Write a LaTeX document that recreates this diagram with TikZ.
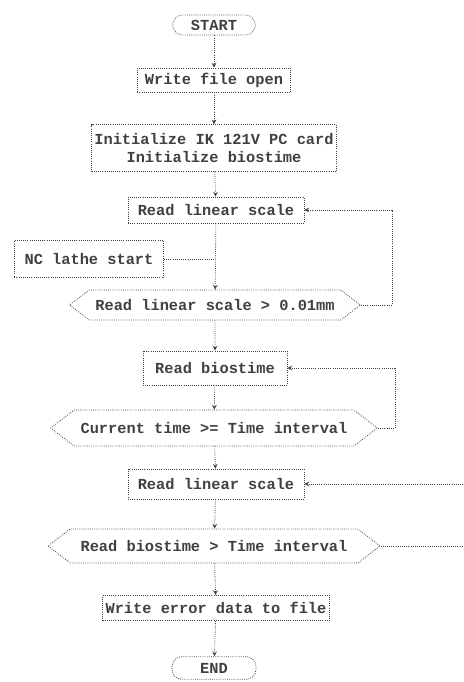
\documentclass[tikz,border=0pt]{standalone}
\usepackage{fontspec}
\setmonofont{Liberation Mono}
\usepackage{tikz}
\usetikzlibrary{shapes,arrows,positioning,calc}

\tikzset{
  flowline/.style={densely dotted, line width=0.6pt, black!75},
  procbox/.style={draw, flowline, rectangle, inner sep=2pt, font=\ttfamily\bfseries\fontsize{11.5}{13}\selectfont},
  termbox/.style={procbox, rounded corners=7.5pt},
  testbox/.style={procbox, signal, signal to=west and east, signal pointer angle=75, inner xsep=1pt}
}

\begin{document}
\begin{tikzpicture}[x=0.75pt, y=-0.75pt, >=stealth]
    \useasboundingbox (0,0) rectangle (464,682);

    % Start and setup
    \node[termbox, minimum width=62pt, minimum height=15pt] (start) at (214,25) {START};
    \node[procbox, minimum width=115pt, minimum height=18pt] (wopen) at (214,80) {Write file open};
    \node[procbox, minimum width=182pt, minimum height=35pt, align=center] (init) at (214,148) {Initialize IK 121V PC card\\Initialize biostime};

    % First loop: wait for the scale to move
    \node[procbox, minimum width=132pt, minimum height=19.5pt] (rscale) at (216,210) {Read linear scale};
    \node[procbox, minimum width=112pt, minimum height=28pt] (nclathe) at (89,259) {NC lathe start};
    \node[testbox, minimum width=218pt, minimum height=22.5pt] (tscale) at (215,305) {Read linear scale > 0.01mm};

    % Second loop: wait for the time interval
    \node[testbox, minimum width=245pt, minimum height=27pt] (ttime) at (214,428) {Current time >= Time interval};
    \node[procbox, minimum width=108pt, minimum height=25.5pt] (rbios) at (215,368) {Read biostime};

    % Measuring loop
    \node[procbox, minimum width=132pt, minimum height=22.5pt] (rscaleb) at (216,484) {Read linear scale};
    \node[testbox, minimum width=249pt, minimum height=25.5pt] (tbios) at (214,546) {Read biostime > Time interval};

    % End
    \node[procbox, minimum width=170pt, minimum height=19pt] (werr) at (216,608) {Write error data to file};
    \node[termbox, minimum width=63pt, minimum height=17pt] (finish) at (214,668) {END};

    \coordinate (join) at (214,259);
    \coordinate (backa) at (392,305);
    \coordinate (backb) at (395,428);
    \coordinate (loopin) at (463,484);
    \coordinate (loopout) at (463,546);

    % Main flow
    \draw[flowline, ->] (start) -- (wopen);
    \draw[flowline, ->] (wopen) -- (init);
    \draw[flowline, ->] (init) -- (rscale);
    \draw[flowline, ->] (rscale) -- (tscale);
    \draw[flowline, ->] (tscale) -- (rbios);
    \draw[flowline, ->] (rbios) -- (ttime);
    \draw[flowline, ->] (ttime) -- (rscaleb);
    \draw[flowline, ->] (rscaleb) -- (tbios);
    \draw[flowline, ->] (tbios) -- (werr);
    \draw[flowline, ->] (werr) -- (finish);
    \draw[flowline] (nclathe) -- (join);

    % Loops back
    \draw[flowline, ->] (tscale.east) -- (tscale.east -| backa) |- (rscale.east);
    \draw[flowline, ->] (ttime.east) -- (ttime.east -| backb) |- (rbios.east);
    \draw[flowline, ->] (loopin) -- (rscaleb.east);
    \draw[flowline] (tbios.east) -- (loopout);
\end{tikzpicture}
\end{document}
